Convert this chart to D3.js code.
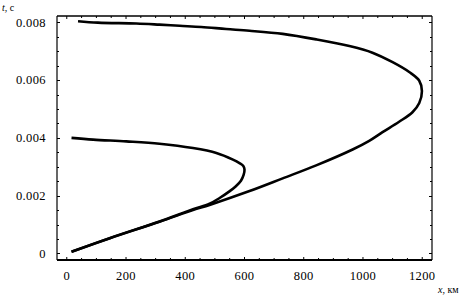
<!DOCTYPE html>
<html>
<head>
<meta charset="utf-8">
<script src="https://cdn.jsdelivr.net/npm/d3@7"></script>
<style>
  body { margin: 0; background: #fff; }
  svg { display: block; }
  text { font-family: "Liberation Serif", "Times New Roman", serif; fill: #000; }
</style>
</head>
<body>
<div id="chart"></div>
<script>
// curve 1 : the short loop (t ~ 0.004 start)
let loop1X = [16, 145, 313, 426, 482, 516, 549, 570, 588, 597, 600, 596, 583, 561, 505, 426, 313, 201, 89, 16];
let loop1T = [0.00006, 0.00053, 0.00111, 0.00153, 0.00172, 0.00192, 0.00215, 0.00232, 0.00252, 0.00272,
              0.0029, 0.00303, 0.00313, 0.00325, 0.00348, 0.00365, 0.0038, 0.00388, 0.00394, 0.004];

// curve 2 : the long loop (t ~ 0.008 start)
let loop2X = [16, 145, 313, 426, 482, 617, 729, 842, 965, 1021, 1066, 1122, 1167, 1190, 1199, 1190, 1156,
              1100, 1032, 954, 842, 729, 617, 538, 454, 381, 313, 235, 105, 38];
let loop2T = [0.00006, 0.00053, 0.0011, 0.0015, 0.00168, 0.00216, 0.0026, 0.00305, 0.0036, 0.0039,
              0.0042, 0.00456, 0.00489, 0.00521, 0.00562, 0.00598, 0.00628, 0.00662, 0.00695, 0.00718,
              0.00741, 0.0076, 0.00771, 0.00777, 0.00784, 0.00788, 0.00792, 0.00796, 0.00799, 0.00804];

let xTicks = [0, 200, 400, 600, 800, 1000, 1200];
let yTicks = [0, 0.002, 0.004, 0.006, 0.008];
let yTickLabels = ["0", "0.002", "0.004", "0.006", "0.008"];

let width = 468, height = 302;
let frameL = 57, frameR = 432, frameT = 16, frameB = 260;

let svg = d3.select("#chart").append("svg")
  .attr("width", width)
  .attr("height", height);

let x = d3.scaleLinear().domain([-33, 1233]).range([frameL, frameR]);
let y = d3.scaleLinear().domain([-0.000226, 0.00822]).range([frameB, frameT]);

let minorX = d3.range(0, 1201, 50);
let minorY = d3.range(0, 0.00801, 0.0005);

// frame ticks, all four sides, pointing inward
let g = svg.append("g").attr("stroke", "#000").attr("stroke-width", 1);

g.selectAll(".tb").data(minorX).join("line")
  .attr("x1", d => x(d)).attr("x2", d => x(d))
  .attr("y1", frameB).attr("y2", d => frameB - (d % 200 === 0 ? 3 : 2));
g.selectAll(".tt").data(minorX).join("line")
  .attr("x1", d => x(d)).attr("x2", d => x(d))
  .attr("y1", frameT).attr("y2", d => frameT + (d % 200 === 0 ? 3 : 2));

g.selectAll(".tl").data(minorY).join("line")
  .attr("y1", d => Math.round(y(d)) + 0.5).attr("y2", d => Math.round(y(d)) + 0.5)
  .attr("x1", frameL).attr("x2", (d, i) => frameL + (i % 4 === 0 ? 3 : 2));
g.selectAll(".tr").data(minorY).join("line")
  .attr("y1", d => Math.round(y(d)) + 0.5).attr("y2", d => Math.round(y(d)) + 0.5)
  .attr("x1", frameR).attr("x2", (d, i) => frameR - (i % 4 === 0 ? 3 : 2));

// frame
svg.append("line").attr("x1", frameL).attr("x2", frameL).attr("y1", frameT).attr("y2", frameB)
  .attr("stroke", "#000").attr("stroke-width", 1.2);
svg.append("line").attr("x1", frameR).attr("x2", frameR).attr("y1", frameT).attr("y2", frameB)
  .attr("stroke", "#000").attr("stroke-width", 1.2);
svg.append("line").attr("x1", frameL).attr("x2", frameR).attr("y1", frameT).attr("y2", frameT)
  .attr("stroke", "#000").attr("stroke-width", 1.7);
svg.append("line").attr("x1", frameL).attr("x2", frameR).attr("y1", frameB).attr("y2", frameB)
  .attr("stroke", "#000").attr("stroke-width", 1.9);

// tick labels
svg.selectAll(".xl").data(xTicks).join("text")
  .attr("x", d => x(d))
  .attr("y", 279.5)
  .attr("text-anchor", "middle")
  .attr("font-size", 12.5)
  .attr("letter-spacing", 0.4)
  .text(d => d);

svg.selectAll(".yl").data(yTicks).join("text")
  .attr("x", 46)
  .attr("y", d => y(d) + 4.3)
  .attr("text-anchor", "end")
  .attr("font-size", 12.5)
  .attr("letter-spacing", 0.4)
  .text((d, i) => yTickLabels[i]);

// axis names
let tl = svg.append("text").attr("x", 2).attr("y", 11).attr("font-size", 10);
tl.append("tspan").attr("font-style", "italic").text("t");
tl.append("tspan").text(", c");

let xl = svg.append("text").attr("x", 438).attr("y", 293).attr("font-size", 10);
xl.append("tspan").attr("font-style", "italic").text("x");
xl.append("tspan").text(", км");

// curves
let line = d3.line()
  .x(d => x(d[0]))
  .y(d => y(d[1]))
  .curve(d3.curveCatmullRom);

let curves = [d3.zip(loop1X, loop1T), d3.zip(loop2X, loop2T)];

svg.selectAll(".curve").data(curves).join("path")
  .attr("d", line)
  .attr("fill", "none")
  .attr("stroke", "#000")
  .attr("stroke-width", 2.6)
  .attr("stroke-linejoin", "round");
</script>
</body>
</html>
